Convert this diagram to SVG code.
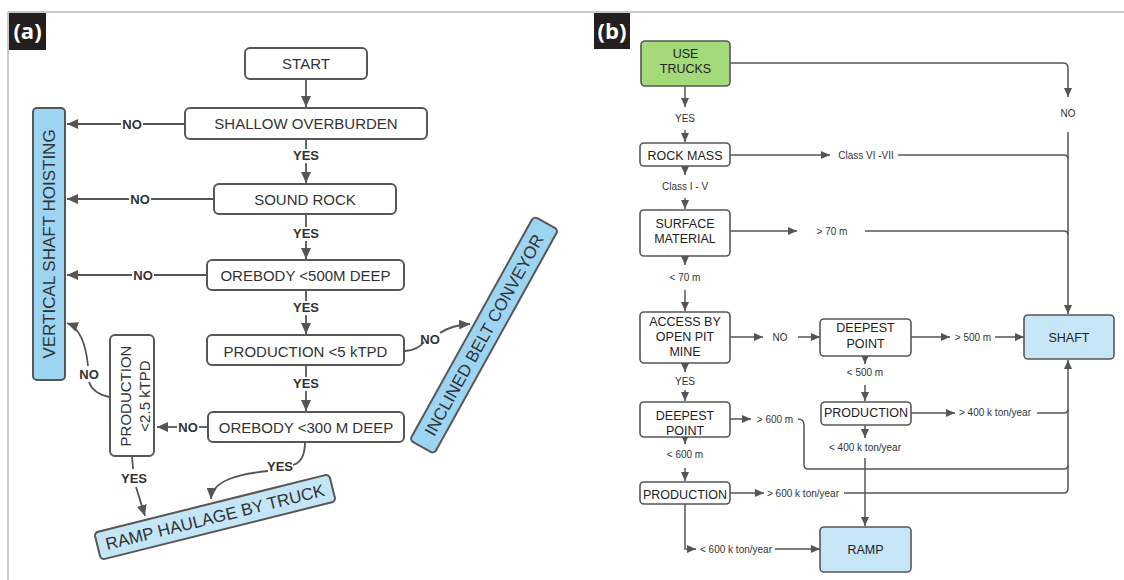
<svg xmlns="http://www.w3.org/2000/svg" width="1124" height="580" viewBox="0 0 1124 580">
<style>
.frame{stroke:#c9c9c9;stroke-width:2;fill:none}
.tag{fill:#231f20}
.tagt{font-family:"Open Sans","Liberation Sans",sans-serif;font-weight:bold;font-size:22px;fill:#fff;text-anchor:middle}
.box{fill:#fff;stroke:#575757;stroke-width:2}
.bl{fill:#9dd4f2;stroke:#575757;stroke-width:2}
.bl2{fill:#c4e5f6;stroke:#575757;stroke-width:2}
.rbox{fill:#fff;stroke:#575757;stroke-width:1.6}
.rg{fill:#a5d97a;stroke:#575757;stroke-width:1.6}
.rb{fill:#c6e6f6;stroke:#575757;stroke-width:1.6}
.t{font-family:"Liberation Sans",Arial,sans-serif;font-size:15px;fill:#333;text-anchor:middle}
.tb{font-family:"Liberation Sans",Arial,sans-serif;font-size:17px;fill:#333;text-anchor:middle}
.rt{font-family:"Liberation Sans",Arial,sans-serif;font-size:12.5px;fill:#222;text-anchor:middle}
.lab{font-family:"Liberation Sans",Arial,sans-serif;font-size:13px;font-weight:bold;fill:#333;text-anchor:middle}
.rl{font-family:"Liberation Sans",Arial,sans-serif;font-size:10px;fill:#333;text-anchor:middle}
.c{fill:none;stroke:#555;stroke-width:1.8}
.rc{fill:none;stroke:#555;stroke-width:1.5}
</style>
<defs>
<marker id="ah" markerUnits="userSpaceOnUse" markerWidth="12" markerHeight="10" refX="11" refY="5" orient="auto">
<path d="M0,0 L11,5 L0,10 z" fill="#555"/>
</marker>
<marker id="ahs" markerUnits="userSpaceOnUse" markerWidth="10" markerHeight="9" refX="9" refY="4" orient="auto">
<path d="M0,0 L9,4 L0,8 z" fill="#555"/>
</marker>
</defs>
<rect width="1124" height="580" fill="#fff"/>
<path class="frame" d="M8,12 H1124 M8,12 V580"/>
<g id="tag-a"><rect class="tag" x="9" y="13" width="37" height="37"/><text class="tagt" x="27.5" y="39">(a)</text></g>
<g id="tag-b"><rect class="tag" x="594" y="13" width="36" height="36"/><text class="tagt" x="612" y="39">(b)</text></g>

<g id="connectors-a">
<path class="c" d="M306,80 V107" marker-end="url(#ah)"/>
<path class="c" d="M185,124 H143"/>
<path class="c" d="M121,124 H67" marker-end="url(#ah)"/>
<path class="c" d="M306,139 V149"/>
<path class="c" d="M306,163 V183" marker-end="url(#ah)"/>
<path class="c" d="M214,199 H151"/>
<path class="c" d="M129,199 H67" marker-end="url(#ah)"/>
<path class="c" d="M306,214 V227"/>
<path class="c" d="M306,241 V259" marker-end="url(#ah)"/>
<path class="c" d="M207,275 H154"/>
<path class="c" d="M132,275 H67" marker-end="url(#ah)"/>
<path class="c" d="M306,290 V301"/>
<path class="c" d="M306,315 V334" marker-end="url(#ah)"/>
<path class="c" d="M306,365 V377"/>
<path class="c" d="M306,391 V411" marker-end="url(#ah)"/>
<path class="c" d="M405,351 Q418,350 424,342"/>
<path class="c" d="M440,333 Q452,325 470,324" marker-end="url(#ah)"/>
<path class="c" d="M208,427 H199"/>
<path class="c" d="M177,427 H157" marker-end="url(#ah)"/>
<path class="c" d="M305,442 C305,456 300,463 293,465"/>
<path class="c" d="M268,471 C240,474 212,480 211,499" marker-end="url(#ah)"/>
<path class="c" d="M132,456 L133,469"/>
<path class="c" d="M136,487 L145,516" marker-end="url(#ah)"/>
<path class="c" d="M109,397 C96,394 91,388 89,382"/>
<path class="c" d="M88,366 C86,345 80,328 67,323" marker-end="url(#ah)"/>
<text class="lab" x="132" y="129">NO</text>
<text class="lab" x="140" y="204">NO</text>
<text class="lab" x="143" y="280">NO</text>
<text class="lab" x="188" y="432">NO</text>
<text class="lab" x="430" y="344">NO</text>
<text class="lab" x="89" y="379">NO</text>
<text class="lab" x="306" y="160">YES</text>
<text class="lab" x="306" y="238">YES</text>
<text class="lab" x="306" y="312">YES</text>
<text class="lab" x="306" y="388">YES</text>
<text class="lab" x="280" y="471">YES</text>
<text class="lab" x="134" y="483">YES</text>
</g>

<g id="start"><rect class="box" x="245" y="48" width="122" height="31" rx="5"/><text class="t" x="306" y="69">START</text></g>
<g id="shallow-overburden"><rect class="box" x="185" y="108" width="242" height="31" rx="5"/><text class="t" x="306" y="129">SHALLOW OVERBURDEN</text></g>
<g id="sound-rock"><rect class="box" x="214" y="184" width="182" height="30" rx="5"/><text class="t" x="305" y="205">SOUND ROCK</text></g>
<g id="orebody-500"><rect class="box" x="207" y="260" width="197" height="30" rx="5"/><text class="t" x="305.5" y="281">OREBODY &lt;500M DEEP</text></g>
<g id="production-5"><rect class="box" x="207" y="335" width="197" height="30" rx="5"/><text class="t" x="305.5" y="357">PRODUCTION &lt;5 kTPD</text></g>
<g id="orebody-300"><rect class="box" x="208" y="412" width="196" height="30" rx="5"/><text class="t" x="306" y="433">OREBODY &lt;300 M DEEP</text></g>
<g id="production-2-5"><rect class="box" x="110" y="335" width="44" height="121" rx="5"/><text class="t" transform="translate(132,396) rotate(-90)"><tspan x="0" y="-1">PRODUCTION</tspan><tspan x="0" y="18">&lt;2.5 kTPD</tspan></text></g>
<g id="vertical-shaft"><rect class="bl" x="33" y="108" width="32" height="272" rx="4"/><text class="tb" transform="translate(49,244) rotate(-90)" y="6">VERTICAL SHAFT HOISTING</text></g>
<g id="ramp-haulage" transform="translate(215,517) rotate(-14)"><rect class="bl2" x="-121" y="-14" width="242" height="28" rx="4"/><text class="tb" x="0" y="6">RAMP HAULAGE BY TRUCK</text></g>
<g id="inclined-belt" transform="translate(484,335) rotate(-61)"><rect class="bl" x="-128" y="-14" width="256" height="28" rx="4"/><text class="tb" x="0" y="6">INCLINED BELT CONVEYOR</text></g>

<g id="connectors-b">
<path class="rc" d="M730,63 H1063 Q1068,63 1068,68 V97" marker-end="url(#ahs)"/>
<path class="rc" d="M1068,132 V314" marker-end="url(#ahs)"/>
<path class="rc" d="M685,86 V107" marker-end="url(#ahs)"/>
<path class="rc" d="M685,130 V142" marker-end="url(#ahs)"/>
<path class="rc" d="M730,155 H830" marker-end="url(#ahs)"/>
<path class="rc" d="M898,155 H1064 Q1068,155 1068,159"/>
<path class="rc" d="M685,166 V175" marker-end="url(#ahs)"/>
<path class="rc" d="M685,198 V209" marker-end="url(#ahs)"/>
<path class="rc" d="M730,231 H797" marker-end="url(#ahs)"/>
<path class="rc" d="M865,231 H1064 Q1068,231 1068,235"/>
<path class="rc" d="M685,256 V265" marker-end="url(#ahs)"/>
<path class="rc" d="M685,290 V311" marker-end="url(#ahs)"/>
<path class="rc" d="M730,337 H763" marker-end="url(#ahs)"/>
<path class="rc" d="M798,337 H820" marker-end="url(#ahs)"/>
<path class="rc" d="M911,337 H950" marker-end="url(#ahs)"/>
<path class="rc" d="M995,337 H1024" marker-end="url(#ahs)"/>
<path class="rc" d="M865,354 V364" marker-end="url(#ahs)"/>
<path class="rc" d="M865,385 V401" marker-end="url(#ahs)"/>
<path class="rc" d="M685,363 V372" marker-end="url(#ahs)"/>
<path class="rc" d="M685,390 V401" marker-end="url(#ahs)"/>
<path class="rc" d="M911,413 H955" marker-end="url(#ahs)"/>
<path class="rc" d="M1037,413 H1064 Q1068,413 1068,409"/>
<path class="rc" d="M1068,488 V360" marker-end="url(#ahs)"/>
<path class="rc" d="M865,425 V438" marker-end="url(#ahs)"/>
<path class="rc" d="M865,458 V526" marker-end="url(#ahs)"/>
<path class="rc" d="M730,419 H751" marker-end="url(#ahs)"/>
<path class="rc" d="M798,419 Q804,419 804,425 V465 Q804,469 808,469 H1064 Q1068,469 1068,465"/>
<path class="rc" d="M685,435 V444" marker-end="url(#ahs)"/>
<path class="rc" d="M685,468 V481" marker-end="url(#ahs)"/>
<path class="rc" d="M730,493 H764" marker-end="url(#ahs)"/>
<path class="rc" d="M844,493 H1064 Q1068,493 1068,488"/>
<path class="rc" d="M685,504 V549 H696" marker-end="url(#ahs)"/>
<path class="rc" d="M775,549 H820" marker-end="url(#ahs)"/>
<text class="rl" x="1068" y="117">NO</text>
<text class="rl" x="685" y="121.5">YES</text>
<text class="rl" x="866" y="158.5">Class VI -VII</text>
<text class="rl" x="685" y="189.5">Class I - V</text>
<text class="rl" x="832" y="234.5">&gt; 70 m</text>
<text class="rl" x="685" y="280.5">&lt; 70 m</text>
<text class="rl" x="780" y="340.5">NO</text>
<text class="rl" x="973" y="340.5">&gt; 500 m</text>
<text class="rl" x="865" y="375.5">&lt; 500 m</text>
<text class="rl" x="685" y="384.5">YES</text>
<text class="rl" x="995" y="416">&gt; 400 k ton/year</text>
<text class="rl" x="865" y="450.5">&lt; 400 k ton/year</text>
<text class="rl" x="775" y="422.5">&gt; 600 m</text>
<text class="rl" x="685" y="457.5">&lt; 600 m</text>
<text class="rl" x="803" y="496.5">&gt; 600 k ton/year</text>
<text class="rl" x="736" y="552.5">&lt; 600 k ton/year</text>
</g>

<g id="use-trucks"><rect class="rg" x="641" y="41" width="89" height="45" rx="4"/><text class="rt" x="685.5" y="57.5">USE</text><text class="rt" x="685.5" y="72.5">TRUCKS</text></g>
<g id="rock-mass"><rect class="rbox" x="640" y="143" width="90" height="23" rx="4"/><text class="rt" x="685" y="159.5">ROCK MASS</text></g>
<g id="surface-material"><rect class="rbox" x="640" y="210" width="90" height="46" rx="4"/><text class="rt" x="685" y="227.5">SURFACE</text><text class="rt" x="685" y="242.5">MATERIAL</text></g>
<g id="access-open-pit"><rect class="rbox" x="640" y="312" width="90" height="51" rx="4"/><text class="rt" x="685" y="325.5">ACCESS BY</text><text class="rt" x="685" y="340.5">OPEN PIT</text><text class="rt" x="685" y="355.5">MINE</text></g>
<g id="deepest-point-r"><rect class="rbox" x="820" y="319" width="91" height="37" rx="4"/><text class="rt" x="865.5" y="331.5">DEEPEST</text><text class="rt" x="865.5" y="347.5">POINT</text></g>
<g id="shaft"><rect class="rb" x="1024" y="315" width="90" height="44" rx="4"/><text class="rt" x="1069" y="341.5">SHAFT</text></g>
<g id="production-r"><rect class="rbox" x="821" y="402" width="90" height="23" rx="4"/><text class="rt" x="866" y="417">PRODUCTION</text></g>
<g id="deepest-point-l"><rect class="rbox" x="640" y="402" width="90" height="35" rx="4"/><text class="rt" x="685" y="419.5">DEEPEST</text><text class="rt" x="685" y="434.5">POINT</text></g>
<g id="production-l"><rect class="rbox" x="640" y="482" width="90" height="22" rx="4"/><text class="rt" x="685" y="498.5">PRODUCTION</text></g>
<g id="ramp"><rect class="rb" x="820" y="527" width="91" height="45" rx="4"/><text class="rt" x="865.5" y="553.5">RAMP</text></g>
</svg>
